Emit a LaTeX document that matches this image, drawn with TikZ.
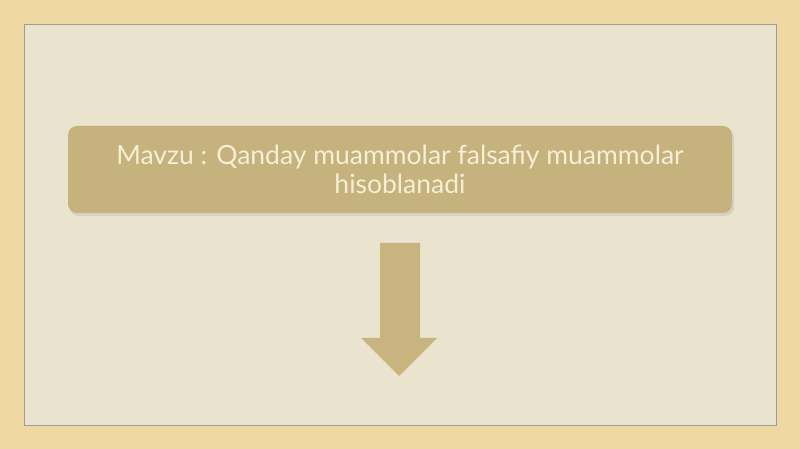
\documentclass[tikz,border=0pt]{standalone}
\usepackage{fontspec}
\setmainfont{Lato}
\begin{document}
\begin{tikzpicture}[x=1pt,y=1pt,
  panel/.style={draw=gray!70!black!60, line width=0.8pt, fill=panelfill},
  titlebox/.style={rounded corners=9pt, fill=boxfill, text=textcol, align=center,
     minimum width=664pt, minimum height=87pt, inner sep=0pt, font=\fontsize{26.5}{29}\selectfont},
  downarrow/.style={fill=arrowfill, draw=none}]
\definecolor{woodbg}{HTML}{EFD8A2}
\definecolor{panelfill}{HTML}{EAE3CD}
\definecolor{boxfill}{HTML}{C6B27D}
\definecolor{textcol}{HTML}{F6EFD6}
\definecolor{arrowfill}{HTML}{C8B47F}
\useasboundingbox (0,0) rectangle (800,449);
\fill[woodbg] (0,0) rectangle (800,449);
\draw[panel] (24,24) rectangle (776,425);
\fill[black!30, opacity=0.35, rounded corners=9pt] (70,233) rectangle (734,320);
\node[titlebox] (title) at (400,279.5) {Mavzu : Qanday muammolar falsafiy muammolar\\hisoblanadi};
\fill[downarrow] (380,206) -- (420,206) -- (420,111) -- (437,111) -- (399,73) -- (361,111) -- (380,111) -- cycle;
\end{tikzpicture}
\end{document}
